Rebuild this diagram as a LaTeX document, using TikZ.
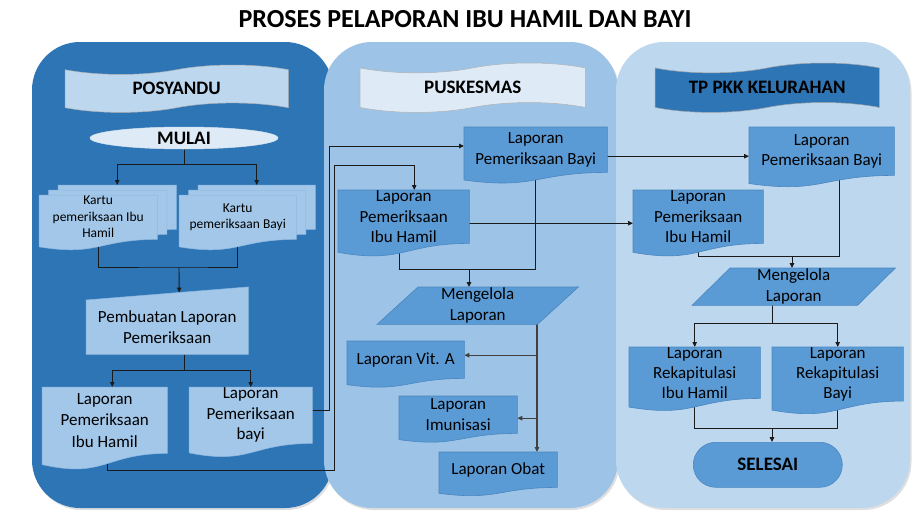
\documentclass[tikz,border=0pt]{standalone}
\usepackage{fontspec}
\setmainfont{Carlito}
\usetikzlibrary{calc,arrows.meta,shadows}
\pgfdeclarelayer{panel}\pgfdeclarelayer{conn}\pgfdeclarelayer{shape}
\pgfsetlayers{panel,conn,shape,main}
\definecolor{pL}{HTML}{2E75B6}
\definecolor{pM}{HTML}{9DC3E6}
\definecolor{pR}{HTML}{BDD7EE}
\definecolor{dk}{HTML}{5B9BD5}
\definecolor{dkb}{HTML}{4A86C0}
\definecolor{lt}{HTML}{A2C7E9}
\definecolor{ltb}{HTML}{8DB8E0}
\definecolor{vl}{HTML}{DEEBF7}
\definecolor{lk}{HTML}{1A1A1A}
\definecolor{lg}{HTML}{404040}
\newcommand\hdfont{\bfseries\fontsize{19}{22}\selectfont}
\newcommand\docshape[2]{%
  \filldraw[#2] let \p1=(#1.north west), \p2=(#1.south east), \n1={\x2-\x1}, \n2={\y2-\y1} in
  (\x1,\y1) -- (\x2,\y1) -- (\x2,\y2) .. controls ({\x1+0.5*\n1},\y2) and ({\x1+0.5*\n1},{\y1+1.384*\n2}) .. (\x1,{\y1+1.1675*\n2}) -- cycle;}
\newcommand\tapeshape[2]{%
  \filldraw[#2] let \p1=(#1.north west), \p2=(#1.south east), \n1={\x2-\x1}, \n2={\y2-\y1} in
  (\x1,{\y1+0.1*\n2}) .. controls ({\x1+0.15*\n1},{\y1+0.233*\n2}) and ({\x1+0.35*\n1},{\y1+0.233*\n2}) .. ({\x1+0.5*\n1},{\y1+0.1*\n2})
  .. controls ({\x1+0.65*\n1},{\y1-0.033*\n2}) and ({\x1+0.85*\n1},{\y1-0.033*\n2}) .. (\x2,{\y1+0.1*\n2})
  -- (\x2,{\y1+0.9*\n2}) .. controls ({\x1+0.85*\n1},{\y1+0.767*\n2}) and ({\x1+0.65*\n1},{\y1+0.767*\n2}) .. ({\x1+0.5*\n1},{\y1+0.9*\n2})
  .. controls ({\x1+0.35*\n1},{\y1+1.033*\n2}) and ({\x1+0.15*\n1},{\y1+1.033*\n2}) .. (\x1,{\y1+0.9*\n2}) -- cycle;}
\newcommand\parashape[3]{%
  \filldraw[#2] let \p1=(#1.north west), \p2=(#1.south east) in
  ({\x1+#3},\y1) -- (\x2,\y1) -- ({\x2-#3},\y2) -- (\x1,\y2) -- cycle;}
\newcommand\manshape[2]{%
  \filldraw[#2] let \p1=(#1.north west), \p2=(#1.south east), \n2={\y2-\y1} in
  (\x1,\y1) -- (\x2,{\y1-0.24*\n2}) -- (\x2,\y2) -- (\x1,\y2) -- cycle;}
\tikzset{
  lbl/.style={align=center, inner sep=0pt, anchor=north west, text=black, font=\fontsize{17}{20.5}\selectfont},
  wire/.style={draw=lk, line width=0.9pt},
  arr/.style={wire, -{Triangle[length=5pt,width=4.5pt]}},
  arrg/.style={draw=lg, line width=1.1pt, -{Triangle[length=5pt,width=4.5pt]}},
  lightshape/.style={fill=lt, draw=ltb, line width=0.5pt},
  darkshape/.style={fill=dk, draw=dkb, line width=0.6pt},
  panelbox/.style={rounded corners=48pt, drop shadow={opacity=0.25, shadow xshift=1.5pt, shadow yshift=-2pt}},
}
\begin{document}
\begin{tikzpicture}[x=1pt, y=-1pt]
\useasboundingbox (0,0) rectangle (916,514);

\node[font=\bfseries\fontsize{26}{30}\selectfont] (title) at (465,19) {PROSES PELAPORAN IBU HAMIL DAN BAYI};

% ---------- text nodes ----------
\node[lbl, minimum width=223pt, minimum height=47pt, font=\hdfont] (b1) at (65,65) {POSYANDU};
\node[lbl, minimum width=225pt, minimum height=49pt, font=\hdfont] (b2) at (360,63) {PUSKESMAS};
\node[lbl, minimum width=224pt, minimum height=49pt, font=\hdfont] (b3) at (655,63) {TP PKK KELURAHAN};

\node[lbl, anchor=center, minimum width=188pt, minimum height=22pt, font=\hdfont] (mulai) at (184,138) {MULAI};

\node[lbl, minimum width=118pt, minimum height=44pt] (k1c) at (58,185) {};
\node[lbl, minimum width=118pt, minimum height=44pt] (k1b) at (48.5,190) {};
\node[lbl, minimum width=118pt, minimum height=44pt, font=\fontsize{13.5}{16.5}\selectfont] (k1) at (39,195) {Kartu\\pemeriksaan Ibu\\Hamil};
\node[lbl, minimum width=117pt, minimum height=44pt] (k2c) at (198,185) {};
\node[lbl, minimum width=117pt, minimum height=44pt] (k2b) at (188.5,190) {};
\node[lbl, minimum width=117pt, minimum height=44pt, font=\fontsize{13.5}{16.5}\selectfont] (k2) at (179,195) {Kartu\\pemeriksaan Bayi};

\node[lbl, minimum width=162pt, minimum height=54pt] (pb) at (86,300) {Pembuatan Laporan\\Pemeriksaan};
\node[lbl, minimum width=125pt, minimum height=66pt, font=\fontsize{17}{21.5}\selectfont] (lih) at (42,387) {Laporan\\Pemeriksaan\\Ibu Hamil};
\node[lbl, minimum width=123pt, minimum height=56pt] (lby) at (189,387) {Laporan\\Pemeriksaan\\bayi};

\node[lbl, minimum width=143pt, minimum height=45pt] (pby) at (464,127) {Laporan\\Pemeriksaan Bayi};
\node[lbl, minimum width=131pt, minimum height=53pt] (pih) at (338,190) {Laporan\\Pemeriksaan\\Ibu Hamil};
\node[lbl, minimum width=201pt, minimum height=37pt] (pml) at (377,287) {Mengelola\\Laporan};
\node[lbl, minimum width=117pt, minimum height=37pt] (vit) at (347,341) {Laporan Vit. A};
\node[lbl, minimum width=118pt, minimum height=37pt] (imu) at (399,396) {Laporan\\Imunisasi};
\node[lbl, minimum width=118pt, minimum height=35pt] (obat) at (439,452) {Laporan Obat};

\node[lbl, minimum width=145pt, minimum height=48pt] (tby) at (749,127) {Laporan\\Pemeriksaan Bayi};
\node[lbl, minimum width=130pt, minimum height=53pt] (tih) at (633,190) {Laporan\\Pemeriksaan\\Ibu Hamil};
\node[lbl, minimum width=203pt, minimum height=37pt] (tml) at (692,268) {Mengelola\\Laporan};
\node[lbl, minimum width=131pt, minimum height=51pt, font=\fontsize{17}{20}\selectfont] (rih) at (629,347) {Laporan\\Rekapitulasi\\Ibu Hamil};
\node[lbl, minimum width=131pt, minimum height=51pt, font=\fontsize{17}{20}\selectfont] (rby) at (772,347) {Laporan\\Rekapitulasi\\Bayi};
\node[lbl, minimum width=149pt, minimum height=45pt, font=\hdfont, darkshape, rounded corners=22.5pt] (sel) at (693,442) {SELESAI};

% ---------- panels ----------
\begin{pgfonlayer}{panel}
  \fill[pL, panelbox] (32,42) rectangle (333,508);
  \fill[pM, panelbox] (324,42) rectangle (618,508);
  \fill[pR, panelbox] (616,42) rectangle (910,508);
\end{pgfonlayer}

% ---------- shapes ----------
\begin{pgfonlayer}{shape}
  \tapeshape{b1}{fill=pR, draw=black!30, line width=0.5pt}
  \tapeshape{b2}{fill=vl, draw=black!30, line width=0.5pt}
  \tapeshape{b3}{fill=pL, draw=black!35, line width=0.5pt}
  \filldraw[fill=vl, draw=white!80!pL, line width=0.5pt] (mulai.center) ellipse [x radius=94pt, y radius=11pt];
  \docshape{k1c}{lightshape}
  \docshape{k1b}{lightshape}
  \docshape{k1}{lightshape}
  \docshape{k2c}{lightshape}
  \docshape{k2b}{lightshape}
  \docshape{k2}{lightshape}
  \manshape{pb}{lightshape}
  \docshape{lih}{lightshape}
  \docshape{lby}{lightshape}
  \docshape{pby}{darkshape}
  \docshape{pih}{darkshape}
  \parashape{pml}{darkshape}{41}
  \docshape{vit}{darkshape}
  \docshape{imu}{darkshape}
  \docshape{obat}{darkshape}
  \docshape{tby}{darkshape}
  \docshape{tih}{darkshape}
  \parashape{tml}{darkshape}{38}
  \docshape{rih}{darkshape}
  \docshape{rby}{darkshape}
\end{pgfonlayer}

% ---------- connectors ----------
\begin{pgfonlayer}{conn}
  \coordinate (j1) at (184,164);
  \draw[wire] (mulai.center) -- (j1);
  \draw[arr] (j1) -| (k1c.north);
  \draw[arr] (j1) -| (k2c.north);

  \coordinate (j2) at (179,267);
  \coordinate (pbne) at ([yshift=13pt]pb.north east);
  \coordinate (pbtop) at ($(pb.north west)!0.574!(pbne)$);
  \draw[wire] (k1.center) |- (j2) -| (k2.center);
  \draw[arr] (j2) -- (pbtop);

  \coordinate (j3) at (184,370);
  \draw[wire] (pb.center -| j3) -- (j3);
  \draw[arr] (j3) -| ([xshift=7.5pt]lih.north);
  \draw[arr] (j3) -| (lby.north);

  \coordinate (e0) at ([yshift=5pt]lby.east);
  \coordinate (v1) at (329,146);
  \draw[arr] (e0) -| (v1) -- (v1 -| pby.west);

  \coordinate (v2) at (334,470);
  \coordinate (v3) at (334,165);
  \draw[arr] ([xshift=2.5pt]lih.center) |- (v2) -- (v3) -| ([xshift=10.5pt]pih.north);

  \coordinate (j4) at (469,269);
  \draw[wire] (pby.center) |- (j4);
  \draw[wire] ([xshift=-4.5pt]pih.center) |- (j4);
  \draw[arr] (j4) -- (j4 |- pml.north);

  \coordinate (v4) at (537,300);
  \coordinate (ve) at ([yshift=4.5pt]vit.east);
  \coordinate (ie) at ([yshift=-3.5pt]imu.east);
  \draw[arrg] (pml.center -| v4) -- (obat.north -| v4);
  \draw[arrg] (ve -| v4) -- (ve);
  \draw[arrg] (ie -| v4) -- (ie);

  \coordinate (e1) at ([yshift=-6.5pt]pby.east);
  \draw[arr] (e1) -- (e1 -| tby.west);
  \coordinate (e2) at ([yshift=-6.5pt]pih.east);
  \draw[arr] (e2) -- (e2 -| tih.west);

  \coordinate (j5) at (792,256);
  \draw[wire] ([xshift=17.5pt]tby.center) |- (j5);
  \draw[wire] (tih.center) |- (j5);
  \draw[arr] (j5) -- (j5 |- tml.north);

  \coordinate (j6) at (772,323);
  \draw[wire] (tml.center -| j6) -- (j6);
  \draw[arr] (j6) -| (rih.north);
  \draw[arr] (j6) -| (rby.north);

  \coordinate (j7) at (772,428);
  \draw[wire] (rih.center) |- (j7);
  \draw[wire] (rby.center) |- (j7);
  \draw[arr] (j7) -- (j7 |- sel.north);
\end{pgfonlayer}
\end{tikzpicture}
\end{document}
